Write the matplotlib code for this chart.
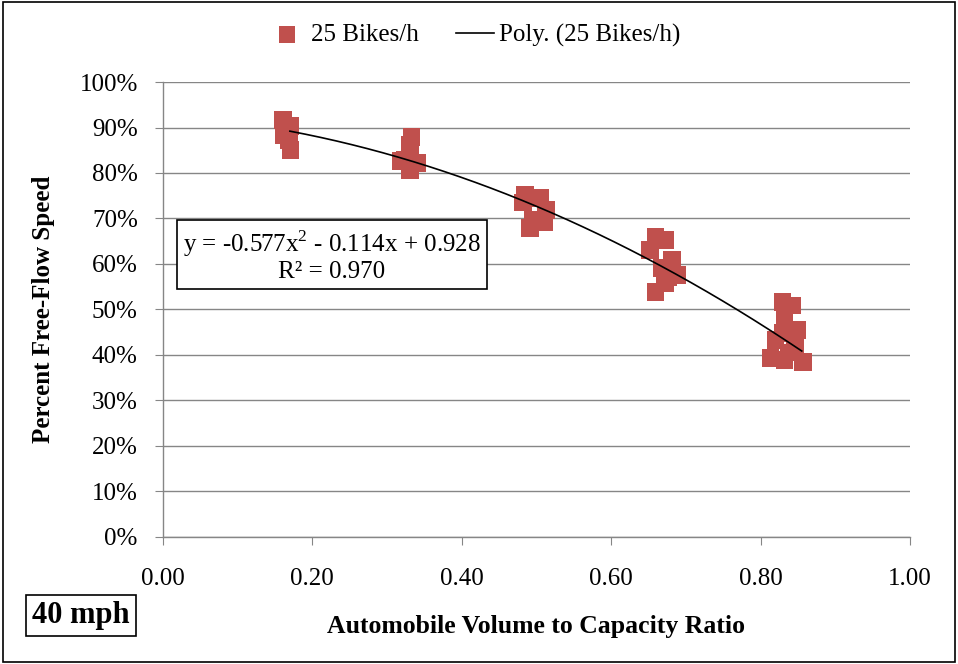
import numpy as np
import matplotlib
matplotlib.use("Agg")
import matplotlib.pyplot as plt
from matplotlib.patches import Rectangle

plt.rcParams['font.family'] = ['Liberation Serif', 'DejaVu Serif']
plt.rcParams['mathtext.fontset'] = 'custom'
plt.rcParams['mathtext.rm'] = 'Liberation Serif'

# Observed volume/capacity ratios and percent of free-flow speed
vc_ratio = [0.161, 0.171, 0.162, 0.169, 0.171,
            0.333, 0.331, 0.324, 0.341, 0.331, 0.318,
            0.485, 0.505, 0.513, 0.495, 0.511, 0.491, 0.482,
            0.659, 0.672, 0.652, 0.681, 0.668, 0.689, 0.672, 0.659, 0.676,
            0.829, 0.842, 0.832, 0.830, 0.849, 0.820, 0.846, 0.813, 0.832, 0.857, 0.838]
pct_ffs = [0.916, 0.903, 0.884, 0.873, 0.851,
           0.879, 0.862, 0.829, 0.822, 0.807, 0.826,
           0.752, 0.745, 0.719, 0.697, 0.692, 0.679, 0.735,
           0.659, 0.653, 0.631, 0.609, 0.591, 0.576, 0.558, 0.538, 0.571,
           0.516, 0.509, 0.477, 0.448, 0.455, 0.433, 0.422, 0.393, 0.389, 0.385, 0.405]

# Quadratic fit coefficients (a, b, c)
fit_coef = [-0.577, -0.114, 0.928]
fit_range = [0.17, 0.855]
r_squared = 0.970

x_ticks = [0.0, 0.2, 0.4, 0.6, 0.8, 1.0]
y_ticks = [0.0, 0.1, 0.2, 0.3, 0.4, 0.5, 0.6, 0.7, 0.8, 0.9, 1.0]

fig = plt.figure(figsize=(9.58, 6.64), dpi=100)
ax = fig.add_axes([0.170, 0.1913, 0.780, 0.6852])

ax.scatter(vc_ratio, pct_ffs, marker='s', s=160, color='#C0504D',
           edgecolors='none', label='25 Bikes/h', zorder=3)

xs = np.linspace(fit_range[0], fit_range[1], 200)
ys = np.polyval(fit_coef, xs)
ax.plot(xs, ys, color='black', lw=1.2, label='Poly. (25 Bikes/h)', zorder=4)

ax.set_xlim(0, 1)
ax.set_ylim(0, 1)
ax.set_xticks(x_ticks)
ax.set_xticklabels([f"{t:.2f}" for t in x_ticks])
ax.set_yticks(y_ticks)
ax.set_yticklabels([f"{int(round(t*100))}%" for t in y_ticks])
ax.tick_params(labelsize=18, length=6, color='#868686', direction='out')
ax.tick_params(axis='x', pad=16)
ax.tick_params(axis='y', pad=12)
ax.grid(axis='y', color='#868686', lw=1)
ax.set_axisbelow(True)
for side in ['top', 'right']:
    ax.spines[side].set_visible(False)
for side in ['left', 'bottom']:
    ax.spines[side].set_color('#868686')
    ax.spines[side].set_linewidth(1)

ax.set_ylabel('Percent Free-Flow Speed', fontsize=18, fontweight='bold')
ax.yaxis.set_label_coords(-0.145, 0.5)
ax.set_xlabel('Automobile Volume to Capacity Ratio', fontsize=18.5, fontweight='bold')
ax.xaxis.set_label_coords(0.5, -0.172)

leg = fig.legend(loc='center', bbox_to_anchor=(0.495, 0.947), ncol=2, frameon=False,
                 fontsize=18, handlelength=1.5, columnspacing=1.5, handletextpad=0.2,
                 markerscale=0.95)

a, b, c = fit_coef
eq = (f"y = {a:.3f}x$^{{2}}$ - {abs(b):.3f}x + {c:.3f}\nR² = {r_squared:.3f}")
ax.text(0.226, 0.618, eq, transform=ax.transData, ha='center', va='center',
        fontsize=18, linespacing=1.1,
        bbox=dict(boxstyle='square,pad=0.25', fc='white', ec='black', lw=1.2), zorder=5)

fig.text(0.0845, 0.0725, '40 mph', ha='center', va='center', fontsize=22, fontweight='bold',
         bbox=dict(boxstyle='square,pad=0.2', fc='white', ec='black', lw=1.2))

fig.patches.append(Rectangle((0.003, 0.003), 0.994, 0.994, transform=fig.transFigure,
                             fill=False, ec='black', lw=1.2))

fig.savefig('out.png', dpi=100)
